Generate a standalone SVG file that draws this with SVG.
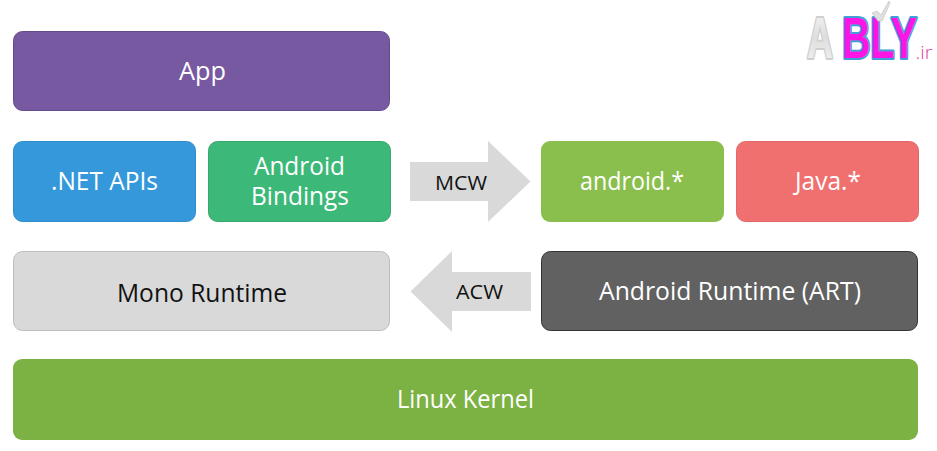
<svg xmlns="http://www.w3.org/2000/svg" width="937" height="451" viewBox="0 0 937 451">
<defs>
<linearGradient id="silver" x1="0" y1="0" x2="0" y2="1"><stop offset="0" stop-color="#f7f7f7"/><stop offset="0.5" stop-color="#dedede"/><stop offset="1" stop-color="#f6f6f6"/></linearGradient>
</defs>
<style>
text{font-family:"Open Sans","Noto Sans","Liberation Sans",sans-serif;text-anchor:middle}
.w{fill:#fff;font-size:25px}
.b{fill:#111;font-size:25px}
.s{fill:#111;font-size:20px}
.logo{font-family:"Liberation Sans",sans-serif;font-weight:700;font-size:58px;stroke-width:4;paint-order:stroke;stroke-linejoin:round}
</style>
<rect width="937" height="451" fill="#fff"/>
<g id="app"><rect x="13.500" y="31.500" width="376" height="79" rx="9" fill="#7759a1" stroke="#654a8c"/><text class="w" x="202.500" y="80" textLength="47" lengthAdjust="spacingAndGlyphs">App</text></g>
<g id="net-apis"><rect x="13.500" y="141.500" width="182" height="80" rx="9" fill="#3498db" stroke="#2f8ccb"/><text class="w" x="104.500" y="190" textLength="107" lengthAdjust="spacingAndGlyphs">.NET APIs</text></g>
<g id="android-bindings"><rect x="208.500" y="141.500" width="182" height="80" rx="9" fill="#3cb878" stroke="#36a86d"/><text class="w" x="299.500" y="175" textLength="91" lengthAdjust="spacingAndGlyphs">Android</text><text class="w" x="300" y="205" textLength="98" lengthAdjust="spacingAndGlyphs">Bindings</text></g>
<g id="android-star"><rect x="541" y="141" width="183" height="81" rx="9" fill="#8abf4d"/><text class="w" x="632" y="190" textLength="104" lengthAdjust="spacingAndGlyphs">android.*</text></g>
<g id="java-star"><rect x="736.500" y="141.500" width="182" height="80" rx="9" fill="#f07070" stroke="#e06868"/><text class="w" x="828" y="190" textLength="66" lengthAdjust="spacingAndGlyphs">Java.*</text></g>
<g id="mono-runtime"><rect x="13.500" y="251.500" width="376" height="79" rx="9" fill="#d9d9d9" stroke="#bdbdbd"/><text class="b" x="202" y="302" textLength="170" lengthAdjust="spacingAndGlyphs">Mono Runtime</text></g>
<g id="art"><rect x="541.500" y="251.500" width="376" height="79" rx="9" fill="#616161" stroke="#333"/><text class="w" x="730" y="300" textLength="262" lengthAdjust="spacingAndGlyphs">Android Runtime (ART)</text></g>
<g id="linux-kernel"><rect x="13" y="359" width="905" height="81" rx="9" fill="#7cb244"/><text class="w" x="465.500" y="408" textLength="137" lengthAdjust="spacingAndGlyphs">Linux Kernel</text></g>
<g id="connectors">
<polygon points="410,162 488,162 488,141 530.500,181.500 488,222 488,201 410,201" fill="#d9d9d9"/>
<polygon points="531,272 452,272 452,251 410.500,291.500 452,332 452,311 531,311" fill="#d9d9d9"/>
<text class="s" x="461" y="190" textLength="52" lengthAdjust="spacingAndGlyphs">MCW</text>
<text class="s" x="479.500" y="299" textLength="47" lengthAdjust="spacingAndGlyphs">ACW</text>
</g>
<g id="logo">
<text class="logo" transform="translate(820 58) scale(.62 1)" fill="url(#silver)" stroke="#cfcfcf">A</text>
<text class="logo" transform="translate(879.500 58) scale(.68 1)" fill="#ff14e6" stroke="#3f9fd8">BLY</text>
<text x="924" y="59" fill="#e0409a" style="font-size:18px;font-weight:300" textLength="17" lengthAdjust="spacingAndGlyphs">.ir</text>
<polygon points="872,13 877,11 881,15 889,1 890,3 882,21 878,21" fill="#e0e0e0" stroke="#c4c4c4" stroke-width="0.700"/>
</g>
</svg>
